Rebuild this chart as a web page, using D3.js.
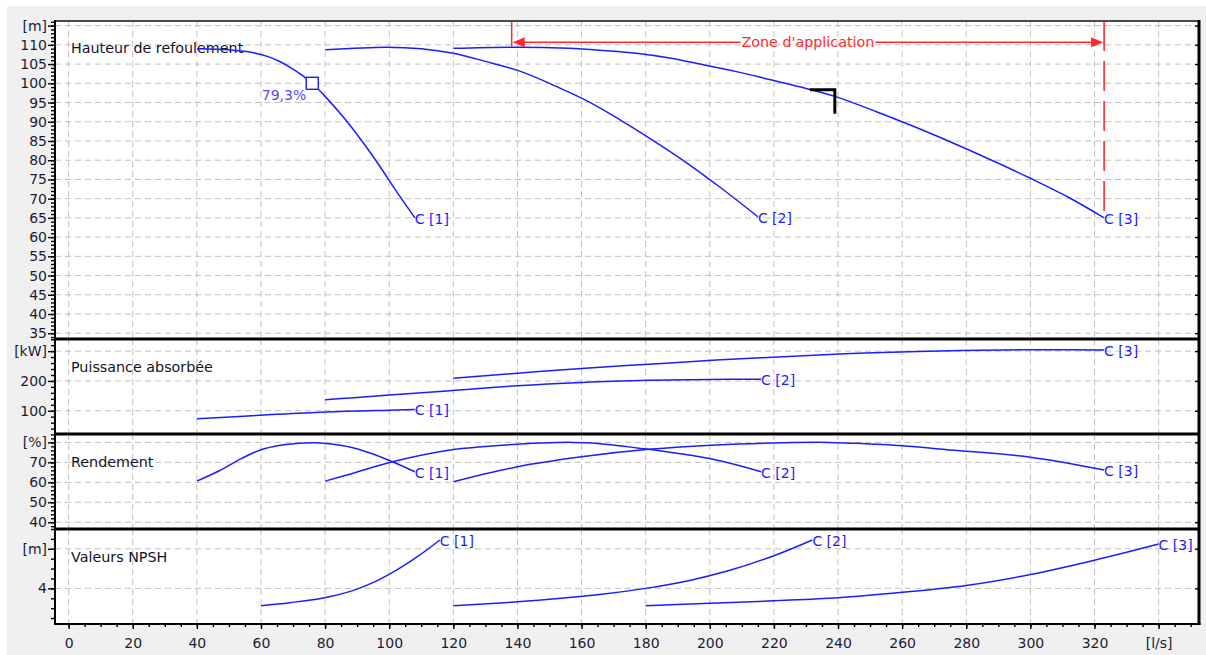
<!DOCTYPE html>
<html><head><meta charset="utf-8">
<script src="https://cdn.jsdelivr.net/npm/d3@7"></script>
<style>
body{margin:0;background:#fff}
svg{display:block}
text{font-family:"DejaVu Sans",sans-serif}
</style>
</head><body>
<svg id="c" width="1206" height="655"></svg>
<script>
// ---------- data ----------
const xTicks = [0,20,40,60,80,100,120,140,160,180,200,220,240,260,280,300,320];
const xUnit = "[l/s]";
const xUnitAt = 340;

const headTicks = [35,40,45,50,55,60,65,70,75,80,85,90,95,100,105,110];
const headUnit = "[m]", headUnitAt = 115;
const powerTicks = [100,200];
const powerUnit = "[kW]", powerUnitAt = 300;
const effTicks = [40,50,60,70];
const effUnit = "[%]", effUnitAt = 80;
const npshTicks = [4];
const npshUnit = "[m]", npshUnitAt = 8;

const curveNames = ["C [1]","C [2]","C [3]"];

const headC1 = [[40,109],[50,108.7],[56,108.2],[62,107],[66,105.6],[70,103.7],[73,102],[76,100],[80,96.6],[86,90.9],[92,84.4],[97,78.5],[102,72.2],[108,65]];
const headC2 = [[80,108.7],[99,109.4],[110,109],[120,107.8],[130,105.7],[141,103.1],[151,99.6],[162,95.3],[172,90.5],[182,85.3],[193,79.2],[203,73.1],[215,65.3]];
const headC3 = [[120,109.1],[140,109.4],[156,109.1],[167,108.5],[177,107.8],[188,106.5],[198,104.8],[208,103.1],[219,100.9],[228,99.1],[239,96.6],[252,92.6],[265,88.3],[278,83.7],[290,79.2],[300,75.3],[312,70.3],[323,65]];

const powerC1 = [[40,73],[60,85],[80,96],[100,102],[108,104]];
const powerC2 = [[80,137],[88,143],[100,153],[118,166],[140,184],[160,195],[181,202],[200,205],[216,206]];
const powerC3 = [[120,209],[140,226],[160,242],[181,256],[202,270],[223,281],[244,292],[265,299],[285,303],[305,305],[323,304]];

const effC1 = [[40,60.6],[47,65.8],[54,72],[60,76.3],[66,78.6],[72,79.6],[77,79.8],[82,79.2],[88,77.6],[94,74.7],[101,70.3],[108,65.3]];
const effC2 = [[80,60.6],[88,64.2],[101,70.3],[119,76.2],[130,77.9],[140,79.1],[150,79.8],[157,80],[165,79.5],[181,76.5],[202,71.2],[216,65.3]];
const effC3 = [[120,60.3],[140,67.8],[160,72.8],[181,76.5],[202,78.7],[223,79.8],[237,80],[244,79.6],[260,78.3],[275,76.2],[300,72.6],[323,66.2]];

const npshC1 = [[60,2.25],[69,2.55],[79,3.0],[88.6,3.77],[95.6,4.68],[102.4,5.86],[108.8,7.2],[115.8,8.89]];
const npshC2 = [[120,2.25],[136,2.55],[150,2.9],[165,3.35],[180,4.0],[193,4.75],[206,5.8],[220,7.3],[232,8.89]];
const npshC3 = [[180,2.25],[200,2.5],[220,2.75],[240,3.05],[260,3.6],[280,4.3],[300,5.4],[320,6.85],[340,8.49]];

const bestPoint = [76,100];          // best efficiency point on C [1]
const bestLabel = "79,3%";
const dutyPoint = [239,98.3];        // operating point marker
const zoneRange = [138.2,323];       // Zone d'application
const zoneLevel = 110.7;
const zoneLeftBottom = 109.6;
const zoneLabel = "Zone d'application";

// ---------- layout ----------
const L = 55, R = 1199, T = 21, B = 624;
const blue = "#1c1cff", red = "#ff2a2a", gridC = "#c0c0c0";
const svg = d3.select("#c");
svg.append("rect").attr("x",7).attr("y",6).attr("width",1199).attr("height",649).attr("fill","#f0f0f0");
svg.append("rect").attr("x",L).attr("y",T).attr("width",R-L).attr("height",B-T).attr("fill","#fff");

const x = d3.scaleLinear().domain([-4.25,352.6]).range([L,R]);
const yHead = d3.scaleLinear().domain([33.5,116.2]).range([339,T]);
const yPow = d3.scaleLinear().domain([22,340.7]).range([434,339]);
const yEff = d3.scaleLinear().domain([36.6,84.2]).range([529,434]);
const yNpsh = d3.scaleLinear().domain([0.4,10]).range([B,529]);

const panels = [
  {y:yHead, ticks:headTicks, unit:headUnit, unitAt:headUnitAt, minor:d3.range(34,117,1), title:"Hauteur de refoulement", ty:53, series:[headC1,headC2,headC3]},
  {y:yPow, ticks:powerTicks, unit:powerUnit, unitAt:powerUnitAt, minor:d3.range(40,341,20), title:"Puissance absorbée", ty:372, series:[powerC1,powerC2,powerC3]},
  {y:yEff, ticks:effTicks, unit:effUnit, unitAt:effUnitAt, minor:d3.range(38,85,2), title:"Rendement", ty:467, series:[effC1,effC2,effC3]},
  {y:yNpsh, ticks:npshTicks, unit:npshUnit, unitAt:npshUnitAt, minor:d3.range(1,11,1), title:"Valeurs NPSH", ty:562, series:[npshC1,npshC2,npshC3]}
];

const gridG = svg.append("g");
const allX = xTicks.concat([xUnitAt]);
panels.forEach(p => {
  const [y0,y1] = p.y.range();
  allX.forEach(v => gridG.append("line").attr("x1",x(v)).attr("x2",x(v)).attr("y1",y1).attr("y2",y0)
    .attr("stroke",gridC).attr("stroke-dasharray","6,4"));
  p.ticks.concat([p.unitAt]).forEach(v => gridG.append("line").attr("x1",L).attr("x2",R).attr("y1",p.y(v)).attr("y2",p.y(v))
    .attr("stroke",gridC).attr("stroke-dasharray","6,4"));
});

// axes
function styleAxis(g){
  g.select(".domain").remove();
  g.attr("font-size",14).attr("font-family","DejaVu Sans, sans-serif");
  g.selectAll("line").attr("stroke","#000").attr("stroke-width",1.4);
  g.selectAll("text").attr("fill","#1c1c34");
}
panels.forEach(p => {
  svg.append("g").attr("transform",`translate(${L},0)`)
    .call(d3.axisLeft(p.y).tickValues(p.minor).tickSize(4).tickFormat("")).call(styleAxis);
  svg.append("g").attr("transform",`translate(${L},0)`)
    .call(d3.axisLeft(p.y).tickValues(p.ticks.concat([p.unitAt])).tickSize(7).tickPadding(1)
      .tickFormat(d => d === p.unitAt ? p.unit : d)).call(styleAxis);
  svg.append("g").attr("transform",`translate(${R},0)`)
    .call(d3.axisLeft(p.y).tickValues(p.ticks.concat([p.unitAt])).tickSize(4).tickFormat("")).call(styleAxis);
  svg.append("text").attr("x",71).attr("y",p.ty).attr("font-size",14.3).attr("fill","#141428").text(p.title);
});
svg.append("g").attr("transform",`translate(0,${B})`)
  .call(d3.axisBottom(x).tickValues(d3.range(0,351,5)).tickSize(3).tickFormat("")).call(styleAxis);
svg.append("g").attr("transform",`translate(0,${B})`)
  .call(d3.axisBottom(x).tickValues(allX).tickSize(5).tickPadding(9)
    .tickFormat(d => d === xUnitAt ? xUnit : d)).call(styleAxis);

// curves
const line = y => d3.line().x(d => x(d[0])).y(d => y(d[1])).curve(d3.curveCatmullRom.alpha(0.5));
panels.forEach(p => {
  p.series.forEach((s,i) => {
    svg.append("path").attr("d",line(p.y)(s)).attr("fill","none").attr("stroke",blue).attr("stroke-width",1.5);
    const e = s[s.length-1];
    svg.append("text").attr("x",x(e[0])).attr("y",p.y(e[1])).attr("dy","0.42em")
      .attr("font-size",14).attr("fill",blue).text(curveNames[i]);
  });
});

// best efficiency point
svg.append("rect").attr("x",x(bestPoint[0])-6).attr("y",yHead(bestPoint[1])-6).attr("width",12).attr("height",12)
  .attr("fill","#fff").attr("stroke",blue).attr("stroke-width",1.4);
svg.append("text").attr("x",x(bestPoint[0])-6).attr("y",yHead(bestPoint[1])+17).attr("text-anchor","end")
  .attr("font-size",14).attr("fill","#5046ff").text(bestLabel);

// duty point marker
const dx = x(dutyPoint[0]), dy = yHead(dutyPoint[1]);
svg.append("path").attr("d",`M${dx-25},${dy}H${dx}V${dy+24}`).attr("fill","none").attr("stroke","#000").attr("stroke-width",3);

// zone d'application
const zx0 = x(zoneRange[0]), zx1 = x(zoneRange[1]), zy = yHead(zoneLevel);
svg.append("line").attr("x1",zx0).attr("x2",zx0).attr("y1",T).attr("y2",yHead(zoneLeftBottom)).attr("stroke",red).attr("stroke-width",1.5);
svg.append("line").attr("x1",zx1).attr("x2",zx1).attr("y1",T).attr("y2",yHead(headC3[headC3.length-1][1]))
  .attr("stroke",red).attr("stroke-width",1.6).attr("stroke-dasharray","30,10");
const zt = svg.append("text").attr("x",(zx0+zx1)/2).attr("y",zy).attr("dy","0.36em").attr("text-anchor","middle")
  .attr("font-size",14.3).attr("fill",red).text(zoneLabel);
const tw = zt.node().getComputedTextLength();
const cx = (zx0+zx1)/2;
svg.append("line").attr("x1",zx0+4).attr("x2",cx-tw/2-1).attr("y1",zy).attr("y2",zy).attr("stroke",red).attr("stroke-width",1.5);
svg.append("line").attr("x1",cx+tw/2+1).attr("x2",zx1-4).attr("y1",zy).attr("y2",zy).attr("stroke",red).attr("stroke-width",1.5);
svg.append("path").attr("d",`M${zx0+1},${zy}L${zx0+13},${zy-5}L${zx0+13},${zy+5}Z`).attr("fill",red);
svg.append("path").attr("d",`M${zx1-1},${zy}L${zx1-13},${zy-5}L${zx1-13},${zy+5}Z`).attr("fill",red);

// frame
svg.append("line").attr("x1",L).attr("x2",R).attr("y1",T).attr("y2",T).attr("stroke","#4a4a4a").attr("stroke-width",2);
[339,434,529].forEach(v => svg.append("line").attr("x1",L).attr("x2",R).attr("y1",v).attr("y2",v).attr("stroke","#000").attr("stroke-width",3));
svg.append("line").attr("x1",L).attr("x2",R+1.5).attr("y1",B).attr("y2",B).attr("stroke","#000").attr("stroke-width",2);
svg.append("line").attr("x1",L).attr("x2",L).attr("y1",T-1).attr("y2",B+1).attr("stroke","#000").attr("stroke-width",2);
svg.append("line").attr("x1",R).attr("x2",R).attr("y1",T-1).attr("y2",B+1).attr("stroke","#000").attr("stroke-width",3);
</script>
</body></html>
